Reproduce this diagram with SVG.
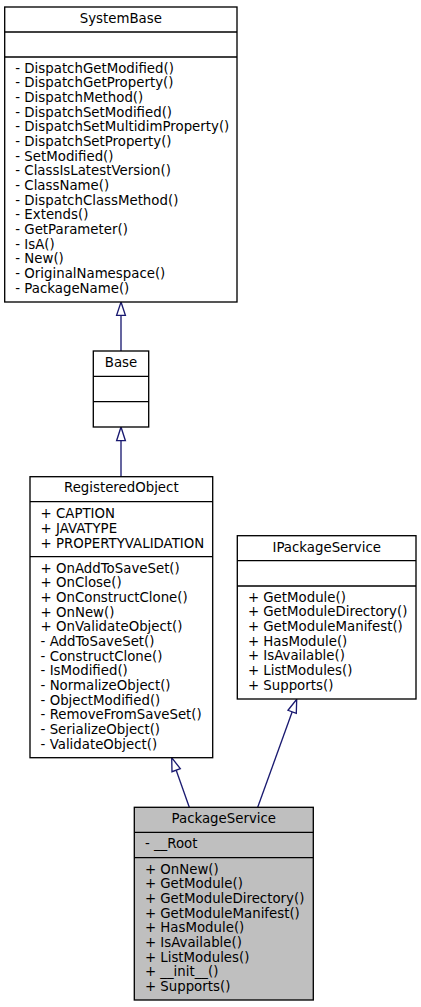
<svg xmlns="http://www.w3.org/2000/svg" width="421" height="1007" viewBox="0 0 421 1007">
<style>
.box{fill:#ffffff;stroke:#000000;stroke-width:1.33}
.hl{fill:#bfbfbf;stroke:#000000;stroke-width:1.33}
.sep{stroke:#000000;stroke-width:1.33;fill:none}
text{font-family:"DejaVu Sans","Liberation Sans",sans-serif;font-size:13.33px;fill:#000000}
.t{text-anchor:middle}
.edge{stroke:#191970;stroke-width:1.33;fill:none}
.head{stroke:#191970;stroke-width:1.33;fill:#ffffff}
</style>
<rect width="421" height="1007" fill="#ffffff"/>
<g id="connectors">
<line class="edge" x1="121" y1="315.3" x2="121" y2="351"/>
<polygon class="head" points="121,302 125.4,315.3 116.6,315.3"/>
<line class="edge" x1="121" y1="440.7" x2="121" y2="476.7"/>
<polygon class="head" points="121,427 125.4,440.7 116.6,440.7"/>
<line class="edge" x1="176.2" y1="770.2" x2="189.3" y2="807.3"/>
<polygon class="head" points="171.7,757.7 180.3,768.7 172,771.7"/>
<line class="edge" x1="292.2" y1="711.8" x2="257.7" y2="807.3"/>
<polygon class="head" points="296.7,699.3 296.3,713.3 288,710.3"/>
</g>
<g id="SystemBase">
<rect class="box" x="4.7" y="7" width="232.3" height="295"/>
<line class="sep" x1="4.7" y1="32" x2="237" y2="32"/>
<line class="sep" x1="4.7" y1="57" x2="237" y2="57"/>
<text class="t" x="120.8" y="23">SystemBase</text>
<text x="15.3" y="72.8">- DispatchGetModified()</text>
<text x="15.3" y="87.47">- DispatchGetProperty()</text>
<text x="15.3" y="102.13">- DispatchMethod()</text>
<text x="15.3" y="116.8">- DispatchSetModified()</text>
<text x="15.3" y="131.47">- DispatchSetMultidimProperty()</text>
<text x="15.3" y="146.13">- DispatchSetProperty()</text>
<text x="15.3" y="160.8">- SetModified()</text>
<text x="15.3" y="175.47">- ClassIsLatestVersion()</text>
<text x="15.3" y="190.13">- ClassName()</text>
<text x="15.3" y="204.8">- DispatchClassMethod()</text>
<text x="15.3" y="219.47">- Extends()</text>
<text x="15.3" y="234.13">- GetParameter()</text>
<text x="15.3" y="248.8">- IsA()</text>
<text x="15.3" y="263.47">- New()</text>
<text x="15.3" y="278.13">- OriginalNamespace()</text>
<text x="15.3" y="292.8">- PackageName()</text>
</g>
<g id="Base">
<rect class="box" x="93.3" y="351" width="55.4" height="76"/>
<line class="sep" x1="93.3" y1="376.3" x2="148.7" y2="376.3"/>
<line class="sep" x1="93.3" y1="401.7" x2="148.7" y2="401.7"/>
<text class="t" x="121" y="366.7">Base</text>
</g>
<g id="RegisteredObject">
<rect class="box" x="30" y="476.7" width="182.7" height="281"/>
<line class="sep" x1="30" y1="501.7" x2="212.7" y2="501.7"/>
<line class="sep" x1="30" y1="556.7" x2="212.7" y2="556.7"/>
<text class="t" x="121.3" y="492.4">RegisteredObject</text>
<text x="40.6" y="518.2">+ CAPTION</text>
<text x="40.6" y="532.87">+ JAVATYPE</text>
<text x="40.6" y="547.53">+ PROPERTYVALIDATION</text>
<text x="40.6" y="572.5">+ OnAddToSaveSet()</text>
<text x="40.6" y="587.17">+ OnClose()</text>
<text x="40.6" y="601.83">+ OnConstructClone()</text>
<text x="40.6" y="616.5">+ OnNew()</text>
<text x="40.6" y="631.17">+ OnValidateObject()</text>
<text x="40.6" y="645.83">- AddToSaveSet()</text>
<text x="40.6" y="660.5">- ConstructClone()</text>
<text x="40.6" y="675.17">- IsModified()</text>
<text x="40.6" y="689.83">- NormalizeObject()</text>
<text x="40.6" y="704.5">- ObjectModified()</text>
<text x="40.6" y="719.17">- RemoveFromSaveSet()</text>
<text x="40.6" y="733.83">- SerializeObject()</text>
<text x="40.6" y="748.5">- ValidateObject()</text>
</g>
<g id="IPackageService">
<rect class="box" x="237.3" y="535.7" width="178.7" height="163.3"/>
<line class="sep" x1="237.3" y1="560.7" x2="416" y2="560.7"/>
<line class="sep" x1="237.3" y1="586" x2="416" y2="586"/>
<text class="t" x="326.7" y="551.5">IPackageService</text>
<text x="247.9" y="601.8">+ GetModule()</text>
<text x="247.9" y="616.47">+ GetModuleDirectory()</text>
<text x="247.9" y="631.13">+ GetModuleManifest()</text>
<text x="247.9" y="645.8">+ HasModule()</text>
<text x="247.9" y="660.47">+ IsAvailable()</text>
<text x="247.9" y="675.13">+ ListModules()</text>
<text x="247.9" y="689.8">+ Supports()</text>
</g>
<g id="PackageService">
<rect class="hl" x="134.3" y="807.3" width="179" height="192.7"/>
<line class="sep" x1="134.3" y1="832.3" x2="313.3" y2="832.3"/>
<line class="sep" x1="134.3" y1="857.7" x2="313.3" y2="857.7"/>
<text class="t" x="223.8" y="823.2">PackageService</text>
<text x="144.9" y="848">- __Root</text>
<text x="144.9" y="873.5">+ OnNew()</text>
<text x="144.9" y="888.17">+ GetModule()</text>
<text x="144.9" y="902.83">+ GetModuleDirectory()</text>
<text x="144.9" y="917.5">+ GetModuleManifest()</text>
<text x="144.9" y="932.17">+ HasModule()</text>
<text x="144.9" y="946.83">+ IsAvailable()</text>
<text x="144.9" y="961.5">+ ListModules()</text>
<text x="144.9" y="976.17">+ __init__()</text>
<text x="144.9" y="990.83">+ Supports()</text>
</g>
</svg>
